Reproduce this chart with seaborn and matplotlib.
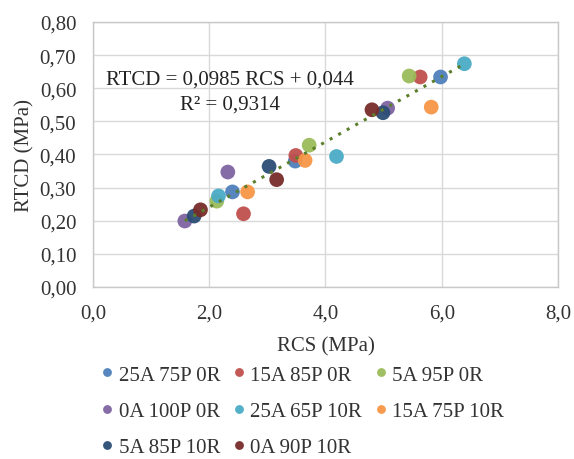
import numpy as np
import pandas as pd
import seaborn as sns
import matplotlib.pyplot as plt

# series names and colours (Excel style)
series = ['25A 75P 0R', '15A 85P 0R', '5A 95P 0R', '0A 100P 0R',
          '25A 65P 10R', '15A 75P 10R', '5A 85P 10R', '0A 90P 10R']
colors = ['#4F81BD', '#C0504D', '#9BBB59', '#8064A2',
          '#4BACC6', '#F79646', '#2C4D75', '#772C2A']

# RCS (MPa) per series, three specimens each
rcs = [[5.98, 3.48, 2.40],
       [5.63, 3.49, 2.59],
       [5.44, 3.72, 2.13],
       [5.07, 2.32, 1.58],
       [6.39, 4.19, 2.16],
       [5.82, 3.65, 2.66],
       [4.99, 3.03, 1.74],
       [4.80, 3.16, 1.85]]

# RTCD (MPa) per series
rtcd = [[0.634, 0.380, 0.287],
        [0.634, 0.397, 0.221],
        [0.637, 0.428, 0.259],
        [0.540, 0.347, 0.199],
        [0.674, 0.394, 0.275],
        [0.543, 0.382, 0.287],
        [0.526, 0.364, 0.214],
        [0.535, 0.324, 0.233]]

# trendline reported in the chart
slope = 0.0985
intercept = 0.044
r2 = 0.9314

rows = []
for name, xs, ys in zip(series, rcs, rtcd):
    for x, y in zip(xs, ys):
        rows.append({'serie': name, 'RCS': x, 'RTCD': y})
df = pd.DataFrame(rows)

sns.set_style('white')
plt.rcParams['font.family'] = ['Liberation Serif', 'DejaVu Serif']
FS = 15

fig = plt.figure(figsize=(5.74, 4.6), dpi=100)
ax = fig.add_axes([0.162, 0.374, 0.810, 0.576])

ax.grid(True, color='#D9D9D9', linewidth=1)
ax.set_axisbelow(True)

sns.scatterplot(data=df, x='RCS', y='RTCD', hue='serie', hue_order=series,
                palette=colors, s=112, edgecolor='none', alpha=0.95,
                ax=ax, zorder=3)

# dotted linear trendline
xl = np.linspace(df['RCS'].min(), df['RCS'].max(), 50)
ax.plot(xl, slope * xl + intercept, linestyle=(0, (1, 2.2)), color='#5B7F2A',
        linewidth=2.2, zorder=4)

ax.text(2.36, 0.628, 'RTCD = 0,0985 RCS + 0,044', ha='center', va='center',
        fontsize=FS, color='#222222')
ax.text(2.36, 0.553, 'R² = ' + f'{r2:.4f}'.replace('.', ','), ha='center',
        va='center', fontsize=FS, color='#222222')

ax.set_xlim(0, 8)
ax.set_ylim(0, 0.8)
xt = np.arange(0, 8.1, 2)
yt = np.arange(0, 0.81, 0.1)
ax.set_xticks(xt)
ax.set_yticks(yt)
ax.set_xticklabels([f'{v:.1f}'.replace('.', ',') for v in xt])
ax.set_yticklabels([f'{v:.2f}'.replace('.', ',') for v in yt])
ax.tick_params(axis='y', length=0, labelsize=FS, colors='#333333', pad=12)
ax.tick_params(axis='x', length=0, labelsize=FS, colors='#333333', pad=12)

for sp in ax.spines.values():
    sp.set_color('#C8C8C8')
    sp.set_linewidth(1)

ax.set_xlabel('RCS (MPa)', fontsize=FS, color='#333333', labelpad=10)
ax.set_ylabel('RTCD (MPa)', fontsize=FS, color='#333333', labelpad=4)

# legend filled row by row, three per row
handles, labels = ax.get_legend_handles_labels()
ax.get_legend().remove()
order = [0, 3, 6, 1, 4, 7, 2, 5]
leg = fig.legend([handles[i] for i in order], [labels[i] for i in order],
                 ncol=3, loc='upper left', bbox_to_anchor=(0.176, 0.204),
                 frameon=False, fontsize=FS, handlelength=0.6,
                 handletextpad=0.25, columnspacing=0.6, labelspacing=0.8,
                 markerscale=0.6, borderpad=0, borderaxespad=0)
for t in leg.get_texts():
    t.set_color('#333333')

fig.savefig('out.png', dpi=100)
